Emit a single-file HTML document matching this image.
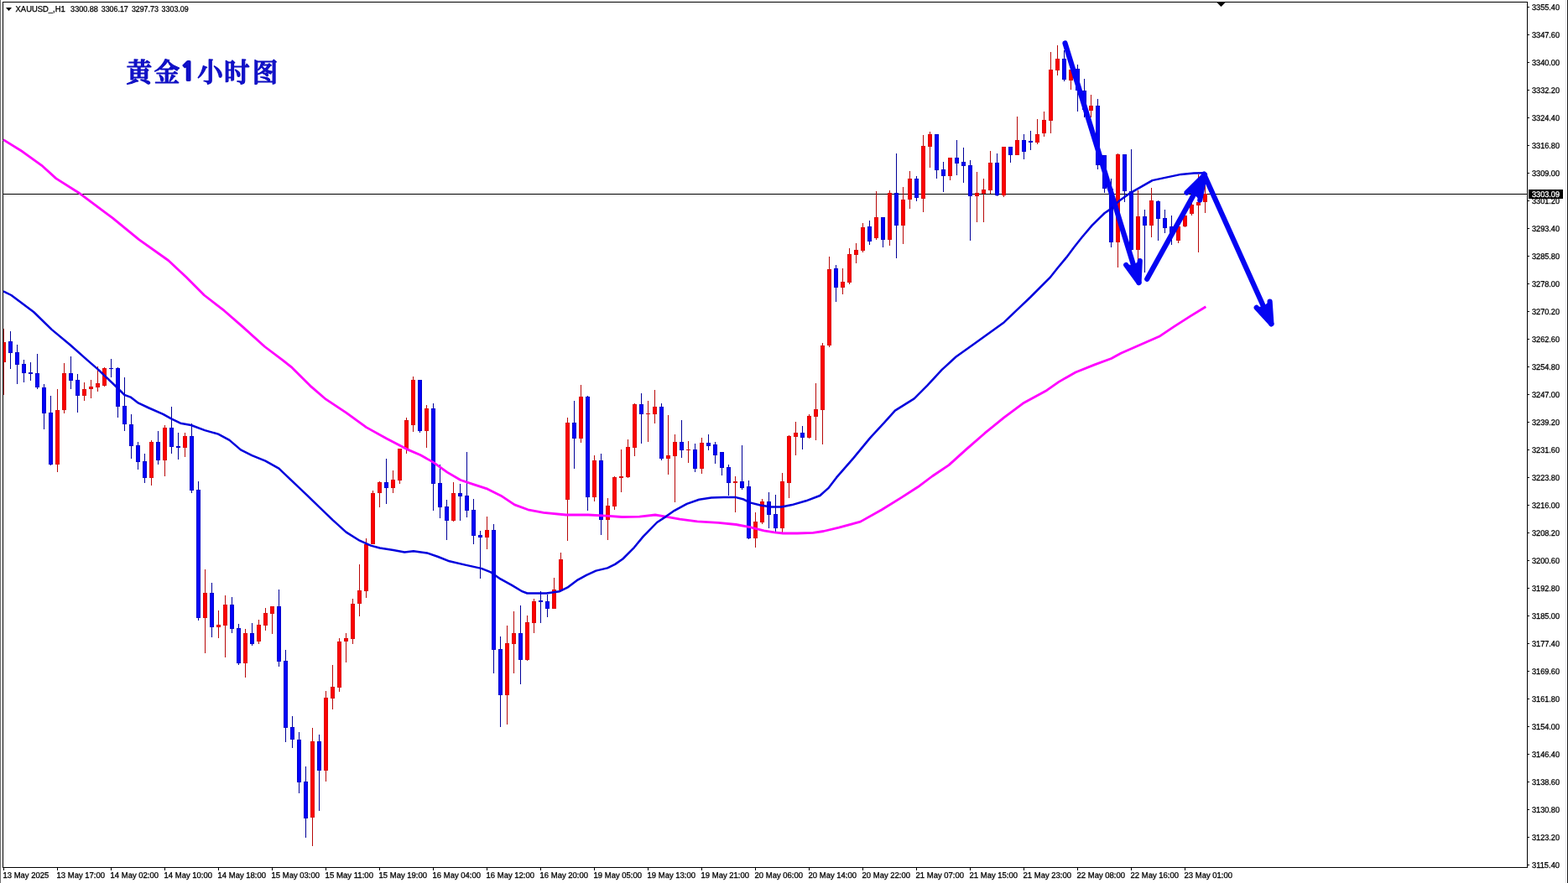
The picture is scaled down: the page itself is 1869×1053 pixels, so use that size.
<!DOCTYPE html>
<html lang="zh"><head><meta charset="utf-8"><title>XAUUSD H1</title>
<style>
html,body{margin:0;padding:0;background:#fff;}
body{width:1869px;height:1053px;overflow:hidden;font-family:"Liberation Sans", sans-serif;}
svg{display:block;}
.ax{font-family:"Liberation Sans", sans-serif;font-size:9.8px;fill:#000;text-rendering:geometricPrecision;stroke:#000;stroke-width:0.3px;}
.ttl{font-family:"Noto Serif CJK SC","Noto Sans CJK SC",serif;font-weight:600;font-size:30.5px;fill:#1212CC;stroke:#0C0CC0;stroke-width:1.2px;stroke-linejoin:round;}
.one{font-family:"NanumGothic","Liberation Sans",sans-serif;font-weight:800;font-size:29px;stroke-width:1.8px;}
</style></head><body>
<svg width="1869" height="1053" viewBox="0 0 1869 1053">
<rect x="0" y="0" width="1869" height="1053" fill="#fff"/>

<g shape-rendering="crispEdges">
<rect x="0" y="0" width="1" height="1053" fill="#707070"/>
<rect x="1866" y="0" width="1" height="1053" fill="#e4e4ea"/>
<rect x="1868" y="0" width="1" height="1053" fill="#181818"/>
<rect x="3" y="2" width="1818" height="1" fill="#000"/>
<rect x="3" y="2" width="1" height="1032" fill="#000"/>
<rect x="1820" y="2" width="1" height="1033" fill="#000"/>
<rect x="3" y="1034" width="1818" height="1" fill="#000"/>
<rect x="1821" y="8" width="2" height="1" fill="#000"/>
<rect x="1821" y="41" width="2" height="1" fill="#000"/>
<rect x="1821" y="74" width="2" height="1" fill="#000"/>
<rect x="1821" y="107" width="2" height="1" fill="#000"/>
<rect x="1821" y="140" width="2" height="1" fill="#000"/>
<rect x="1821" y="173" width="2" height="1" fill="#000"/>
<rect x="1821" y="206" width="2" height="1" fill="#000"/>
<rect x="1821" y="239" width="2" height="1" fill="#000"/>
<rect x="1821" y="272" width="2" height="1" fill="#000"/>
<rect x="1821" y="305" width="2" height="1" fill="#000"/>
<rect x="1821" y="338" width="2" height="1" fill="#000"/>
<rect x="1821" y="371" width="2" height="1" fill="#000"/>
<rect x="1821" y="404" width="2" height="1" fill="#000"/>
<rect x="1821" y="437" width="2" height="1" fill="#000"/>
<rect x="1821" y="470" width="2" height="1" fill="#000"/>
<rect x="1821" y="503" width="2" height="1" fill="#000"/>
<rect x="1821" y="536" width="2" height="1" fill="#000"/>
<rect x="1821" y="569" width="2" height="1" fill="#000"/>
<rect x="1821" y="602" width="2" height="1" fill="#000"/>
<rect x="1821" y="635" width="2" height="1" fill="#000"/>
<rect x="1821" y="668" width="2" height="1" fill="#000"/>
<rect x="1821" y="701" width="2" height="1" fill="#000"/>
<rect x="1821" y="734" width="2" height="1" fill="#000"/>
<rect x="1821" y="767" width="2" height="1" fill="#000"/>
<rect x="1821" y="800" width="2" height="1" fill="#000"/>
<rect x="1821" y="833" width="2" height="1" fill="#000"/>
<rect x="1821" y="866" width="2" height="1" fill="#000"/>
<rect x="1821" y="899" width="2" height="1" fill="#000"/>
<rect x="1821" y="932" width="2" height="1" fill="#000"/>
<rect x="1821" y="965" width="2" height="1" fill="#000"/>
<rect x="1821" y="998" width="2" height="1" fill="#000"/>
<rect x="1821" y="1031" width="2" height="1" fill="#000"/>
<rect x="4" y="1035" width="1" height="3" fill="#000"/>
<rect x="68" y="1035" width="1" height="3" fill="#000"/>
<rect x="132" y="1035" width="1" height="3" fill="#000"/>
<rect x="196" y="1035" width="1" height="3" fill="#000"/>
<rect x="260" y="1035" width="1" height="3" fill="#000"/>
<rect x="324" y="1035" width="1" height="3" fill="#000"/>
<rect x="388" y="1035" width="1" height="3" fill="#000"/>
<rect x="452" y="1035" width="1" height="3" fill="#000"/>
<rect x="516" y="1035" width="1" height="3" fill="#000"/>
<rect x="580" y="1035" width="1" height="3" fill="#000"/>
<rect x="644" y="1035" width="1" height="3" fill="#000"/>
<rect x="708" y="1035" width="1" height="3" fill="#000"/>
<rect x="772" y="1035" width="1" height="3" fill="#000"/>
<rect x="836" y="1035" width="1" height="3" fill="#000"/>
<rect x="900" y="1035" width="1" height="3" fill="#000"/>
<rect x="964" y="1035" width="1" height="3" fill="#000"/>
<rect x="1028" y="1035" width="1" height="3" fill="#000"/>
<rect x="1092" y="1035" width="1" height="3" fill="#000"/>
<rect x="1156" y="1035" width="1" height="3" fill="#000"/>
<rect x="1220" y="1035" width="1" height="3" fill="#000"/>
<rect x="1284" y="1035" width="1" height="3" fill="#000"/>
<rect x="1348" y="1035" width="1" height="3" fill="#000"/>
<rect x="1412" y="1035" width="1" height="3" fill="#000"/>
<rect x="4" y="231" width="1816" height="1" fill="#000"/>
</g>
<g shape-rendering="crispEdges">
<rect x="4" y="392" width="1" height="79" fill="#B80808"/>
<rect x="4" y="408" width="3" height="24" fill="#DC0808"/>
<rect x="4" y="409" width="2" height="22" fill="#FC0000"/>
<rect x="12" y="395" width="1" height="45" fill="#000098"/>
<rect x="10" y="407" width="5" height="14" fill="#0000CC"/>
<rect x="11" y="408" width="3" height="12" fill="#0000FA"/>
<rect x="20" y="411" width="1" height="47" fill="#000098"/>
<rect x="18" y="420" width="5" height="15" fill="#0000CC"/>
<rect x="19" y="421" width="3" height="13" fill="#0000FA"/>
<rect x="28" y="429" width="1" height="27" fill="#000098"/>
<rect x="26" y="434" width="5" height="11" fill="#0000CC"/>
<rect x="27" y="435" width="3" height="9" fill="#0000FA"/>
<rect x="36" y="432" width="1" height="22" fill="#000098"/>
<rect x="34" y="444" width="5" height="2" fill="#0000CC"/>
<rect x="44" y="422" width="1" height="42" fill="#000098"/>
<rect x="42" y="445" width="5" height="17" fill="#0000CC"/>
<rect x="43" y="446" width="3" height="15" fill="#0000FA"/>
<rect x="52" y="458" width="1" height="54" fill="#000098"/>
<rect x="50" y="462" width="5" height="31" fill="#0000CC"/>
<rect x="51" y="463" width="3" height="29" fill="#0000FA"/>
<rect x="60" y="472" width="1" height="83" fill="#000098"/>
<rect x="58" y="492" width="5" height="62" fill="#0000CC"/>
<rect x="59" y="493" width="3" height="60" fill="#0000FA"/>
<rect x="68" y="464" width="1" height="99" fill="#B80808"/>
<rect x="66" y="489" width="5" height="65" fill="#DC0808"/>
<rect x="67" y="490" width="3" height="63" fill="#FC0000"/>
<rect x="76" y="433" width="1" height="60" fill="#B80808"/>
<rect x="74" y="445" width="5" height="44" fill="#DC0808"/>
<rect x="75" y="446" width="3" height="42" fill="#FC0000"/>
<rect x="84" y="425" width="1" height="39" fill="#000098"/>
<rect x="82" y="445" width="5" height="9" fill="#0000CC"/>
<rect x="83" y="446" width="3" height="7" fill="#0000FA"/>
<rect x="92" y="446" width="1" height="46" fill="#000098"/>
<rect x="90" y="453" width="5" height="19" fill="#0000CC"/>
<rect x="91" y="454" width="3" height="17" fill="#0000FA"/>
<rect x="100" y="456" width="1" height="22" fill="#B80808"/>
<rect x="98" y="464" width="5" height="8" fill="#DC0808"/>
<rect x="99" y="465" width="3" height="6" fill="#FC0000"/>
<rect x="108" y="453" width="1" height="22" fill="#B80808"/>
<rect x="106" y="461" width="5" height="3" fill="#DC0808"/>
<rect x="107" y="462" width="3" height="1" fill="#FC0000"/>
<rect x="116" y="437" width="1" height="30" fill="#B80808"/>
<rect x="114" y="457" width="5" height="5" fill="#DC0808"/>
<rect x="115" y="458" width="3" height="3" fill="#FC0000"/>
<rect x="124" y="438" width="1" height="23" fill="#B80808"/>
<rect x="122" y="439" width="5" height="21" fill="#DC0808"/>
<rect x="123" y="440" width="3" height="19" fill="#FC0000"/>
<rect x="132" y="428" width="1" height="22" fill="#000098"/>
<rect x="130" y="439" width="5" height="1" fill="#0000CC"/>
<rect x="140" y="438" width="1" height="60" fill="#000098"/>
<rect x="138" y="439" width="5" height="46" fill="#0000CC"/>
<rect x="139" y="440" width="3" height="44" fill="#0000FA"/>
<rect x="148" y="450" width="1" height="64" fill="#000098"/>
<rect x="146" y="484" width="5" height="22" fill="#0000CC"/>
<rect x="147" y="485" width="3" height="20" fill="#0000FA"/>
<rect x="156" y="494" width="1" height="53" fill="#000098"/>
<rect x="154" y="506" width="5" height="26" fill="#0000CC"/>
<rect x="155" y="507" width="3" height="24" fill="#0000FA"/>
<rect x="164" y="527" width="1" height="33" fill="#000098"/>
<rect x="162" y="531" width="5" height="20" fill="#0000CC"/>
<rect x="163" y="532" width="3" height="18" fill="#0000FA"/>
<rect x="172" y="541" width="1" height="35" fill="#000098"/>
<rect x="170" y="550" width="5" height="20" fill="#0000CC"/>
<rect x="171" y="551" width="3" height="18" fill="#0000FA"/>
<rect x="180" y="525" width="1" height="54" fill="#B80808"/>
<rect x="178" y="527" width="5" height="43" fill="#DC0808"/>
<rect x="179" y="528" width="3" height="41" fill="#FC0000"/>
<rect x="188" y="514" width="1" height="40" fill="#000098"/>
<rect x="186" y="527" width="5" height="22" fill="#0000CC"/>
<rect x="187" y="528" width="3" height="20" fill="#0000FA"/>
<rect x="196" y="507" width="1" height="61" fill="#B80808"/>
<rect x="194" y="510" width="5" height="39" fill="#DC0808"/>
<rect x="195" y="511" width="3" height="37" fill="#FC0000"/>
<rect x="204" y="485" width="1" height="56" fill="#000098"/>
<rect x="202" y="510" width="5" height="23" fill="#0000CC"/>
<rect x="203" y="511" width="3" height="21" fill="#0000FA"/>
<rect x="212" y="516" width="1" height="32" fill="#000098"/>
<rect x="210" y="532" width="5" height="2" fill="#0000CC"/>
<rect x="220" y="516" width="1" height="29" fill="#B80808"/>
<rect x="218" y="520" width="5" height="14" fill="#DC0808"/>
<rect x="219" y="521" width="3" height="12" fill="#FC0000"/>
<rect x="228" y="505" width="1" height="83" fill="#000098"/>
<rect x="226" y="520" width="5" height="65" fill="#0000CC"/>
<rect x="227" y="521" width="3" height="63" fill="#0000FA"/>
<rect x="236" y="574" width="1" height="166" fill="#000098"/>
<rect x="234" y="584" width="5" height="153" fill="#0000CC"/>
<rect x="235" y="585" width="3" height="151" fill="#0000FA"/>
<rect x="244" y="679" width="1" height="100" fill="#B80808"/>
<rect x="242" y="707" width="5" height="30" fill="#DC0808"/>
<rect x="243" y="708" width="3" height="28" fill="#FC0000"/>
<rect x="252" y="695" width="1" height="65" fill="#000098"/>
<rect x="250" y="707" width="5" height="41" fill="#0000CC"/>
<rect x="251" y="708" width="3" height="39" fill="#0000FA"/>
<rect x="260" y="728" width="1" height="33" fill="#B80808"/>
<rect x="258" y="745" width="5" height="3" fill="#DC0808"/>
<rect x="259" y="746" width="3" height="1" fill="#FC0000"/>
<rect x="268" y="710" width="1" height="74" fill="#B80808"/>
<rect x="266" y="721" width="5" height="25" fill="#DC0808"/>
<rect x="267" y="722" width="3" height="23" fill="#FC0000"/>
<rect x="276" y="712" width="1" height="43" fill="#000098"/>
<rect x="274" y="721" width="5" height="29" fill="#0000CC"/>
<rect x="275" y="722" width="3" height="27" fill="#0000FA"/>
<rect x="284" y="744" width="1" height="49" fill="#000098"/>
<rect x="282" y="749" width="5" height="42" fill="#0000CC"/>
<rect x="283" y="750" width="3" height="40" fill="#0000FA"/>
<rect x="292" y="750" width="1" height="58" fill="#B80808"/>
<rect x="290" y="755" width="5" height="36" fill="#DC0808"/>
<rect x="291" y="756" width="3" height="34" fill="#FC0000"/>
<rect x="300" y="743" width="1" height="27" fill="#000098"/>
<rect x="298" y="755" width="5" height="13" fill="#0000CC"/>
<rect x="299" y="756" width="3" height="11" fill="#0000FA"/>
<rect x="308" y="739" width="1" height="29" fill="#B80808"/>
<rect x="306" y="745" width="5" height="20" fill="#DC0808"/>
<rect x="307" y="746" width="3" height="18" fill="#FC0000"/>
<rect x="316" y="725" width="1" height="27" fill="#B80808"/>
<rect x="314" y="731" width="5" height="15" fill="#DC0808"/>
<rect x="315" y="732" width="3" height="13" fill="#FC0000"/>
<rect x="324" y="723" width="1" height="33" fill="#B80808"/>
<rect x="322" y="723" width="5" height="9" fill="#DC0808"/>
<rect x="323" y="724" width="3" height="7" fill="#FC0000"/>
<rect x="332" y="703" width="1" height="92" fill="#000098"/>
<rect x="330" y="723" width="5" height="66" fill="#0000CC"/>
<rect x="331" y="724" width="3" height="64" fill="#0000FA"/>
<rect x="340" y="775" width="1" height="110" fill="#000098"/>
<rect x="338" y="788" width="5" height="80" fill="#0000CC"/>
<rect x="339" y="789" width="3" height="78" fill="#0000FA"/>
<rect x="348" y="854" width="1" height="38" fill="#000098"/>
<rect x="346" y="867" width="5" height="15" fill="#0000CC"/>
<rect x="347" y="868" width="3" height="13" fill="#0000FA"/>
<rect x="356" y="873" width="1" height="73" fill="#000098"/>
<rect x="354" y="882" width="5" height="51" fill="#0000CC"/>
<rect x="355" y="883" width="3" height="49" fill="#0000FA"/>
<rect x="364" y="914" width="1" height="85" fill="#000098"/>
<rect x="362" y="932" width="5" height="44" fill="#0000CC"/>
<rect x="363" y="933" width="3" height="42" fill="#0000FA"/>
<rect x="372" y="868" width="1" height="141" fill="#B80808"/>
<rect x="370" y="884" width="5" height="91" fill="#DC0808"/>
<rect x="371" y="885" width="3" height="89" fill="#FC0000"/>
<rect x="380" y="876" width="1" height="91" fill="#000098"/>
<rect x="378" y="884" width="5" height="35" fill="#0000CC"/>
<rect x="379" y="885" width="3" height="33" fill="#0000FA"/>
<rect x="388" y="824" width="1" height="108" fill="#B80808"/>
<rect x="386" y="832" width="5" height="87" fill="#DC0808"/>
<rect x="387" y="833" width="3" height="85" fill="#FC0000"/>
<rect x="396" y="793" width="1" height="53" fill="#B80808"/>
<rect x="394" y="819" width="5" height="14" fill="#DC0808"/>
<rect x="395" y="820" width="3" height="12" fill="#FC0000"/>
<rect x="404" y="761" width="1" height="64" fill="#B80808"/>
<rect x="402" y="765" width="5" height="55" fill="#DC0808"/>
<rect x="403" y="766" width="3" height="53" fill="#FC0000"/>
<rect x="412" y="755" width="1" height="35" fill="#B80808"/>
<rect x="410" y="761" width="5" height="4" fill="#DC0808"/>
<rect x="411" y="762" width="3" height="2" fill="#FC0000"/>
<rect x="420" y="714" width="1" height="54" fill="#B80808"/>
<rect x="418" y="720" width="5" height="42" fill="#DC0808"/>
<rect x="419" y="721" width="3" height="40" fill="#FC0000"/>
<rect x="428" y="673" width="1" height="62" fill="#B80808"/>
<rect x="426" y="704" width="5" height="16" fill="#DC0808"/>
<rect x="427" y="705" width="3" height="14" fill="#FC0000"/>
<rect x="436" y="642" width="1" height="71" fill="#B80808"/>
<rect x="434" y="649" width="5" height="56" fill="#DC0808"/>
<rect x="435" y="650" width="3" height="54" fill="#FC0000"/>
<rect x="444" y="585" width="1" height="64" fill="#B80808"/>
<rect x="442" y="588" width="5" height="61" fill="#DC0808"/>
<rect x="443" y="589" width="3" height="59" fill="#FC0000"/>
<rect x="452" y="574" width="1" height="31" fill="#B80808"/>
<rect x="450" y="575" width="5" height="13" fill="#DC0808"/>
<rect x="451" y="576" width="3" height="11" fill="#FC0000"/>
<rect x="460" y="547" width="1" height="54" fill="#000098"/>
<rect x="458" y="575" width="5" height="7" fill="#0000CC"/>
<rect x="459" y="576" width="3" height="5" fill="#0000FA"/>
<rect x="468" y="561" width="1" height="27" fill="#B80808"/>
<rect x="466" y="572" width="5" height="10" fill="#DC0808"/>
<rect x="467" y="573" width="3" height="8" fill="#FC0000"/>
<rect x="476" y="535" width="1" height="42" fill="#B80808"/>
<rect x="474" y="535" width="5" height="38" fill="#DC0808"/>
<rect x="475" y="536" width="3" height="36" fill="#FC0000"/>
<rect x="484" y="498" width="1" height="43" fill="#B80808"/>
<rect x="482" y="501" width="5" height="34" fill="#DC0808"/>
<rect x="483" y="502" width="3" height="32" fill="#FC0000"/>
<rect x="492" y="449" width="1" height="66" fill="#B80808"/>
<rect x="490" y="453" width="5" height="54" fill="#DC0808"/>
<rect x="491" y="454" width="3" height="52" fill="#FC0000"/>
<rect x="500" y="453" width="1" height="63" fill="#000098"/>
<rect x="498" y="453" width="5" height="61" fill="#0000CC"/>
<rect x="499" y="454" width="3" height="59" fill="#0000FA"/>
<rect x="508" y="483" width="1" height="51" fill="#B80808"/>
<rect x="506" y="487" width="5" height="27" fill="#DC0808"/>
<rect x="507" y="488" width="3" height="25" fill="#FC0000"/>
<rect x="516" y="481" width="1" height="128" fill="#000098"/>
<rect x="514" y="487" width="5" height="90" fill="#0000CC"/>
<rect x="515" y="488" width="3" height="88" fill="#0000FA"/>
<rect x="524" y="554" width="1" height="64" fill="#000098"/>
<rect x="522" y="576" width="5" height="29" fill="#0000CC"/>
<rect x="523" y="577" width="3" height="27" fill="#0000FA"/>
<rect x="532" y="596" width="1" height="48" fill="#000098"/>
<rect x="530" y="604" width="5" height="17" fill="#0000CC"/>
<rect x="531" y="605" width="3" height="15" fill="#0000FA"/>
<rect x="540" y="575" width="1" height="47" fill="#B80808"/>
<rect x="538" y="588" width="5" height="33" fill="#DC0808"/>
<rect x="539" y="589" width="3" height="31" fill="#FC0000"/>
<rect x="548" y="577" width="1" height="44" fill="#000098"/>
<rect x="546" y="588" width="5" height="4" fill="#0000CC"/>
<rect x="547" y="589" width="3" height="2" fill="#0000FA"/>
<rect x="556" y="539" width="1" height="78" fill="#000098"/>
<rect x="554" y="591" width="5" height="18" fill="#0000CC"/>
<rect x="555" y="592" width="3" height="16" fill="#0000FA"/>
<rect x="564" y="595" width="1" height="54" fill="#000098"/>
<rect x="562" y="608" width="5" height="31" fill="#0000CC"/>
<rect x="563" y="609" width="3" height="29" fill="#0000FA"/>
<rect x="572" y="633" width="1" height="57" fill="#000098"/>
<rect x="570" y="638" width="5" height="3" fill="#0000CC"/>
<rect x="571" y="639" width="3" height="1" fill="#0000FA"/>
<rect x="580" y="616" width="1" height="39" fill="#B80808"/>
<rect x="578" y="632" width="5" height="9" fill="#DC0808"/>
<rect x="579" y="633" width="3" height="7" fill="#FC0000"/>
<rect x="588" y="625" width="1" height="178" fill="#000098"/>
<rect x="586" y="632" width="5" height="143" fill="#0000CC"/>
<rect x="587" y="633" width="3" height="141" fill="#0000FA"/>
<rect x="596" y="759" width="1" height="108" fill="#000098"/>
<rect x="594" y="774" width="5" height="55" fill="#0000CC"/>
<rect x="595" y="775" width="3" height="53" fill="#0000FA"/>
<rect x="604" y="746" width="1" height="118" fill="#B80808"/>
<rect x="602" y="767" width="5" height="62" fill="#DC0808"/>
<rect x="603" y="768" width="3" height="60" fill="#FC0000"/>
<rect x="612" y="729" width="1" height="74" fill="#B80808"/>
<rect x="610" y="755" width="5" height="13" fill="#DC0808"/>
<rect x="611" y="756" width="3" height="11" fill="#FC0000"/>
<rect x="620" y="722" width="1" height="94" fill="#000098"/>
<rect x="618" y="755" width="5" height="32" fill="#0000CC"/>
<rect x="619" y="756" width="3" height="30" fill="#0000FA"/>
<rect x="628" y="734" width="1" height="54" fill="#B80808"/>
<rect x="626" y="742" width="5" height="45" fill="#DC0808"/>
<rect x="627" y="743" width="3" height="43" fill="#FC0000"/>
<rect x="636" y="714" width="1" height="41" fill="#B80808"/>
<rect x="634" y="717" width="5" height="26" fill="#DC0808"/>
<rect x="635" y="718" width="3" height="24" fill="#FC0000"/>
<rect x="644" y="705" width="1" height="38" fill="#000098"/>
<rect x="642" y="716" width="5" height="2" fill="#0000CC"/>
<rect x="652" y="709" width="1" height="27" fill="#000098"/>
<rect x="650" y="717" width="5" height="9" fill="#0000CC"/>
<rect x="651" y="718" width="3" height="7" fill="#0000FA"/>
<rect x="660" y="689" width="1" height="37" fill="#B80808"/>
<rect x="658" y="703" width="5" height="23" fill="#DC0808"/>
<rect x="659" y="704" width="3" height="21" fill="#FC0000"/>
<rect x="668" y="659" width="1" height="45" fill="#B80808"/>
<rect x="666" y="667" width="5" height="37" fill="#DC0808"/>
<rect x="667" y="668" width="3" height="35" fill="#FC0000"/>
<rect x="676" y="498" width="1" height="147" fill="#B80808"/>
<rect x="674" y="504" width="5" height="92" fill="#DC0808"/>
<rect x="675" y="505" width="3" height="90" fill="#FC0000"/>
<rect x="684" y="478" width="1" height="81" fill="#000098"/>
<rect x="682" y="504" width="5" height="19" fill="#0000CC"/>
<rect x="683" y="505" width="3" height="17" fill="#0000FA"/>
<rect x="692" y="459" width="1" height="69" fill="#B80808"/>
<rect x="690" y="473" width="5" height="50" fill="#DC0808"/>
<rect x="691" y="474" width="3" height="48" fill="#FC0000"/>
<rect x="700" y="472" width="1" height="137" fill="#000098"/>
<rect x="698" y="473" width="5" height="120" fill="#0000CC"/>
<rect x="699" y="474" width="3" height="118" fill="#0000FA"/>
<rect x="708" y="543" width="1" height="55" fill="#B80808"/>
<rect x="706" y="549" width="5" height="44" fill="#DC0808"/>
<rect x="707" y="550" width="3" height="42" fill="#FC0000"/>
<rect x="716" y="541" width="1" height="97" fill="#000098"/>
<rect x="714" y="549" width="5" height="71" fill="#0000CC"/>
<rect x="715" y="550" width="3" height="69" fill="#0000FA"/>
<rect x="724" y="594" width="1" height="50" fill="#B80808"/>
<rect x="722" y="603" width="5" height="17" fill="#DC0808"/>
<rect x="723" y="604" width="3" height="15" fill="#FC0000"/>
<rect x="732" y="568" width="1" height="40" fill="#B80808"/>
<rect x="730" y="569" width="5" height="35" fill="#DC0808"/>
<rect x="731" y="570" width="3" height="33" fill="#FC0000"/>
<rect x="740" y="536" width="1" height="51" fill="#B80808"/>
<rect x="738" y="568" width="5" height="2" fill="#DC0808"/>
<rect x="748" y="524" width="1" height="46" fill="#B80808"/>
<rect x="746" y="533" width="5" height="36" fill="#DC0808"/>
<rect x="747" y="534" width="3" height="34" fill="#FC0000"/>
<rect x="756" y="481" width="1" height="63" fill="#B80808"/>
<rect x="754" y="482" width="5" height="52" fill="#DC0808"/>
<rect x="755" y="483" width="3" height="50" fill="#FC0000"/>
<rect x="764" y="469" width="1" height="60" fill="#000098"/>
<rect x="762" y="482" width="5" height="12" fill="#0000CC"/>
<rect x="763" y="483" width="3" height="10" fill="#0000FA"/>
<rect x="772" y="478" width="1" height="49" fill="#B80808"/>
<rect x="770" y="493" width="5" height="1" fill="#DC0808"/>
<rect x="780" y="465" width="1" height="40" fill="#B80808"/>
<rect x="778" y="485" width="5" height="9" fill="#DC0808"/>
<rect x="779" y="486" width="3" height="7" fill="#FC0000"/>
<rect x="788" y="481" width="1" height="68" fill="#000098"/>
<rect x="786" y="485" width="5" height="62" fill="#0000CC"/>
<rect x="787" y="486" width="3" height="60" fill="#0000FA"/>
<rect x="796" y="495" width="1" height="71" fill="#B80808"/>
<rect x="794" y="543" width="5" height="4" fill="#DC0808"/>
<rect x="795" y="544" width="3" height="2" fill="#FC0000"/>
<rect x="804" y="518" width="1" height="81" fill="#B80808"/>
<rect x="802" y="527" width="5" height="17" fill="#DC0808"/>
<rect x="803" y="528" width="3" height="15" fill="#FC0000"/>
<rect x="812" y="501" width="1" height="45" fill="#000098"/>
<rect x="810" y="527" width="5" height="10" fill="#0000CC"/>
<rect x="811" y="528" width="3" height="8" fill="#0000FA"/>
<rect x="820" y="526" width="1" height="26" fill="#B80808"/>
<rect x="818" y="536" width="5" height="1" fill="#DC0808"/>
<rect x="828" y="529" width="1" height="34" fill="#000098"/>
<rect x="826" y="536" width="5" height="23" fill="#0000CC"/>
<rect x="827" y="537" width="3" height="21" fill="#0000FA"/>
<rect x="836" y="522" width="1" height="43" fill="#B80808"/>
<rect x="834" y="528" width="5" height="31" fill="#DC0808"/>
<rect x="835" y="529" width="3" height="29" fill="#FC0000"/>
<rect x="844" y="518" width="1" height="19" fill="#000098"/>
<rect x="842" y="528" width="5" height="4" fill="#0000CC"/>
<rect x="843" y="529" width="3" height="2" fill="#0000FA"/>
<rect x="852" y="527" width="1" height="26" fill="#000098"/>
<rect x="850" y="530" width="5" height="13" fill="#0000CC"/>
<rect x="851" y="531" width="3" height="11" fill="#0000FA"/>
<rect x="860" y="539" width="1" height="28" fill="#000098"/>
<rect x="858" y="539" width="5" height="19" fill="#0000CC"/>
<rect x="859" y="540" width="3" height="17" fill="#0000FA"/>
<rect x="868" y="554" width="1" height="37" fill="#000098"/>
<rect x="866" y="557" width="5" height="19" fill="#0000CC"/>
<rect x="867" y="558" width="3" height="17" fill="#0000FA"/>
<rect x="876" y="568" width="1" height="43" fill="#B80808"/>
<rect x="874" y="574" width="5" height="2" fill="#DC0808"/>
<rect x="884" y="531" width="1" height="53" fill="#000098"/>
<rect x="882" y="574" width="5" height="8" fill="#0000CC"/>
<rect x="883" y="575" width="3" height="6" fill="#0000FA"/>
<rect x="892" y="573" width="1" height="70" fill="#000098"/>
<rect x="890" y="580" width="5" height="62" fill="#0000CC"/>
<rect x="891" y="581" width="3" height="60" fill="#0000FA"/>
<rect x="900" y="611" width="1" height="42" fill="#B80808"/>
<rect x="898" y="622" width="5" height="20" fill="#DC0808"/>
<rect x="899" y="623" width="3" height="18" fill="#FC0000"/>
<rect x="908" y="595" width="1" height="30" fill="#B80808"/>
<rect x="906" y="598" width="5" height="25" fill="#DC0808"/>
<rect x="907" y="599" width="3" height="23" fill="#FC0000"/>
<rect x="916" y="587" width="1" height="43" fill="#000098"/>
<rect x="914" y="598" width="5" height="16" fill="#0000CC"/>
<rect x="915" y="599" width="3" height="14" fill="#0000FA"/>
<rect x="924" y="590" width="1" height="44" fill="#000098"/>
<rect x="922" y="613" width="5" height="17" fill="#0000CC"/>
<rect x="923" y="614" width="3" height="15" fill="#0000FA"/>
<rect x="932" y="564" width="1" height="72" fill="#B80808"/>
<rect x="930" y="574" width="5" height="56" fill="#DC0808"/>
<rect x="931" y="575" width="3" height="54" fill="#FC0000"/>
<rect x="940" y="519" width="1" height="75" fill="#B80808"/>
<rect x="938" y="520" width="5" height="56" fill="#DC0808"/>
<rect x="939" y="521" width="3" height="54" fill="#FC0000"/>
<rect x="948" y="503" width="1" height="40" fill="#B80808"/>
<rect x="946" y="516" width="5" height="5" fill="#DC0808"/>
<rect x="947" y="517" width="3" height="3" fill="#FC0000"/>
<rect x="956" y="508" width="1" height="28" fill="#000098"/>
<rect x="954" y="516" width="5" height="6" fill="#0000CC"/>
<rect x="955" y="517" width="3" height="4" fill="#0000FA"/>
<rect x="964" y="494" width="1" height="29" fill="#B80808"/>
<rect x="962" y="496" width="5" height="26" fill="#DC0808"/>
<rect x="963" y="497" width="3" height="24" fill="#FC0000"/>
<rect x="972" y="457" width="1" height="68" fill="#B80808"/>
<rect x="970" y="488" width="5" height="9" fill="#DC0808"/>
<rect x="971" y="489" width="3" height="7" fill="#FC0000"/>
<rect x="980" y="409" width="1" height="121" fill="#B80808"/>
<rect x="978" y="412" width="5" height="77" fill="#DC0808"/>
<rect x="979" y="413" width="3" height="75" fill="#FC0000"/>
<rect x="988" y="306" width="1" height="108" fill="#B80808"/>
<rect x="986" y="321" width="5" height="91" fill="#DC0808"/>
<rect x="987" y="322" width="3" height="89" fill="#FC0000"/>
<rect x="996" y="316" width="1" height="44" fill="#000098"/>
<rect x="994" y="320" width="5" height="23" fill="#0000CC"/>
<rect x="995" y="321" width="3" height="21" fill="#0000FA"/>
<rect x="1004" y="320" width="1" height="31" fill="#B80808"/>
<rect x="1002" y="336" width="5" height="7" fill="#DC0808"/>
<rect x="1003" y="337" width="3" height="5" fill="#FC0000"/>
<rect x="1012" y="296" width="1" height="43" fill="#B80808"/>
<rect x="1010" y="303" width="5" height="34" fill="#DC0808"/>
<rect x="1011" y="304" width="3" height="32" fill="#FC0000"/>
<rect x="1020" y="290" width="1" height="24" fill="#B80808"/>
<rect x="1018" y="298" width="5" height="6" fill="#DC0808"/>
<rect x="1019" y="299" width="3" height="4" fill="#FC0000"/>
<rect x="1028" y="266" width="1" height="35" fill="#B80808"/>
<rect x="1026" y="271" width="5" height="28" fill="#DC0808"/>
<rect x="1027" y="272" width="3" height="26" fill="#FC0000"/>
<rect x="1036" y="263" width="1" height="29" fill="#000098"/>
<rect x="1034" y="270" width="5" height="18" fill="#0000CC"/>
<rect x="1035" y="271" width="3" height="16" fill="#0000FA"/>
<rect x="1044" y="228" width="1" height="58" fill="#B80808"/>
<rect x="1042" y="259" width="5" height="25" fill="#DC0808"/>
<rect x="1043" y="260" width="3" height="23" fill="#FC0000"/>
<rect x="1052" y="259" width="1" height="36" fill="#000098"/>
<rect x="1050" y="259" width="5" height="27" fill="#0000CC"/>
<rect x="1051" y="260" width="3" height="25" fill="#0000FA"/>
<rect x="1060" y="227" width="1" height="66" fill="#B80808"/>
<rect x="1058" y="230" width="5" height="56" fill="#DC0808"/>
<rect x="1059" y="231" width="3" height="54" fill="#FC0000"/>
<rect x="1068" y="183" width="1" height="125" fill="#000098"/>
<rect x="1066" y="230" width="5" height="39" fill="#0000CC"/>
<rect x="1067" y="231" width="3" height="37" fill="#0000FA"/>
<rect x="1076" y="223" width="1" height="68" fill="#B80808"/>
<rect x="1074" y="238" width="5" height="31" fill="#DC0808"/>
<rect x="1075" y="239" width="3" height="29" fill="#FC0000"/>
<rect x="1084" y="204" width="1" height="45" fill="#B80808"/>
<rect x="1082" y="213" width="5" height="25" fill="#DC0808"/>
<rect x="1083" y="214" width="3" height="23" fill="#FC0000"/>
<rect x="1092" y="210" width="1" height="30" fill="#000098"/>
<rect x="1090" y="213" width="5" height="23" fill="#0000CC"/>
<rect x="1091" y="214" width="3" height="21" fill="#0000FA"/>
<rect x="1100" y="161" width="1" height="92" fill="#B80808"/>
<rect x="1098" y="174" width="5" height="63" fill="#DC0808"/>
<rect x="1099" y="175" width="3" height="61" fill="#FC0000"/>
<rect x="1108" y="157" width="1" height="43" fill="#B80808"/>
<rect x="1106" y="160" width="5" height="15" fill="#DC0808"/>
<rect x="1107" y="161" width="3" height="13" fill="#FC0000"/>
<rect x="1116" y="160" width="1" height="53" fill="#000098"/>
<rect x="1114" y="160" width="5" height="43" fill="#0000CC"/>
<rect x="1115" y="161" width="3" height="41" fill="#0000FA"/>
<rect x="1124" y="193" width="1" height="36" fill="#000098"/>
<rect x="1122" y="202" width="5" height="8" fill="#0000CC"/>
<rect x="1123" y="203" width="3" height="6" fill="#0000FA"/>
<rect x="1132" y="188" width="1" height="27" fill="#B80808"/>
<rect x="1130" y="188" width="5" height="22" fill="#DC0808"/>
<rect x="1131" y="189" width="3" height="20" fill="#FC0000"/>
<rect x="1140" y="167" width="1" height="42" fill="#000098"/>
<rect x="1138" y="188" width="5" height="7" fill="#0000CC"/>
<rect x="1139" y="189" width="3" height="5" fill="#0000FA"/>
<rect x="1148" y="176" width="1" height="42" fill="#000098"/>
<rect x="1146" y="193" width="5" height="5" fill="#0000CC"/>
<rect x="1147" y="194" width="3" height="3" fill="#0000FA"/>
<rect x="1156" y="191" width="1" height="96" fill="#000098"/>
<rect x="1154" y="197" width="5" height="37" fill="#0000CC"/>
<rect x="1155" y="198" width="3" height="35" fill="#0000FA"/>
<rect x="1164" y="205" width="1" height="60" fill="#B80808"/>
<rect x="1162" y="230" width="5" height="4" fill="#DC0808"/>
<rect x="1163" y="231" width="3" height="2" fill="#FC0000"/>
<rect x="1172" y="213" width="1" height="52" fill="#B80808"/>
<rect x="1170" y="226" width="5" height="5" fill="#DC0808"/>
<rect x="1171" y="227" width="3" height="3" fill="#FC0000"/>
<rect x="1180" y="180" width="1" height="51" fill="#B80808"/>
<rect x="1178" y="194" width="5" height="33" fill="#DC0808"/>
<rect x="1179" y="195" width="3" height="31" fill="#FC0000"/>
<rect x="1188" y="183" width="1" height="51" fill="#000098"/>
<rect x="1186" y="194" width="5" height="39" fill="#0000CC"/>
<rect x="1187" y="195" width="3" height="37" fill="#0000FA"/>
<rect x="1196" y="175" width="1" height="60" fill="#B80808"/>
<rect x="1194" y="175" width="5" height="58" fill="#DC0808"/>
<rect x="1195" y="176" width="3" height="56" fill="#FC0000"/>
<rect x="1204" y="175" width="1" height="19" fill="#000098"/>
<rect x="1202" y="175" width="5" height="10" fill="#0000CC"/>
<rect x="1203" y="176" width="3" height="8" fill="#0000FA"/>
<rect x="1212" y="139" width="1" height="46" fill="#B80808"/>
<rect x="1210" y="167" width="5" height="18" fill="#DC0808"/>
<rect x="1211" y="168" width="3" height="16" fill="#FC0000"/>
<rect x="1220" y="160" width="1" height="30" fill="#000098"/>
<rect x="1218" y="167" width="5" height="14" fill="#0000CC"/>
<rect x="1219" y="168" width="3" height="12" fill="#0000FA"/>
<rect x="1228" y="156" width="1" height="23" fill="#000098"/>
<rect x="1226" y="168" width="5" height="2" fill="#0000CC"/>
<rect x="1236" y="142" width="1" height="30" fill="#B80808"/>
<rect x="1234" y="160" width="5" height="10" fill="#DC0808"/>
<rect x="1235" y="161" width="3" height="8" fill="#FC0000"/>
<rect x="1244" y="133" width="1" height="30" fill="#B80808"/>
<rect x="1242" y="143" width="5" height="16" fill="#DC0808"/>
<rect x="1243" y="144" width="3" height="14" fill="#FC0000"/>
<rect x="1252" y="62" width="1" height="97" fill="#B80808"/>
<rect x="1250" y="83" width="5" height="61" fill="#DC0808"/>
<rect x="1251" y="84" width="3" height="59" fill="#FC0000"/>
<rect x="1260" y="54" width="1" height="36" fill="#B80808"/>
<rect x="1258" y="70" width="5" height="14" fill="#DC0808"/>
<rect x="1259" y="71" width="3" height="12" fill="#FC0000"/>
<rect x="1268" y="60" width="1" height="37" fill="#000098"/>
<rect x="1266" y="70" width="5" height="25" fill="#0000CC"/>
<rect x="1267" y="71" width="3" height="23" fill="#0000FA"/>
<rect x="1276" y="78" width="1" height="29" fill="#B80808"/>
<rect x="1274" y="83" width="5" height="13" fill="#DC0808"/>
<rect x="1275" y="84" width="3" height="11" fill="#FC0000"/>
<rect x="1284" y="77" width="1" height="56" fill="#000098"/>
<rect x="1282" y="82" width="5" height="26" fill="#0000CC"/>
<rect x="1283" y="83" width="3" height="24" fill="#0000FA"/>
<rect x="1292" y="94" width="1" height="46" fill="#000098"/>
<rect x="1290" y="108" width="5" height="23" fill="#0000CC"/>
<rect x="1291" y="109" width="3" height="21" fill="#0000FA"/>
<rect x="1300" y="113" width="1" height="27" fill="#B80808"/>
<rect x="1298" y="126" width="5" height="6" fill="#DC0808"/>
<rect x="1299" y="127" width="3" height="4" fill="#FC0000"/>
<rect x="1308" y="118" width="1" height="84" fill="#000098"/>
<rect x="1306" y="126" width="5" height="71" fill="#0000CC"/>
<rect x="1307" y="127" width="3" height="69" fill="#0000FA"/>
<rect x="1316" y="185" width="1" height="45" fill="#000098"/>
<rect x="1314" y="185" width="5" height="40" fill="#0000CC"/>
<rect x="1315" y="186" width="3" height="38" fill="#0000FA"/>
<rect x="1324" y="213" width="1" height="82" fill="#000098"/>
<rect x="1322" y="225" width="5" height="64" fill="#0000CC"/>
<rect x="1323" y="226" width="3" height="62" fill="#0000FA"/>
<rect x="1332" y="183" width="1" height="136" fill="#B80808"/>
<rect x="1330" y="184" width="5" height="105" fill="#DC0808"/>
<rect x="1331" y="185" width="3" height="103" fill="#FC0000"/>
<rect x="1340" y="184" width="1" height="57" fill="#000098"/>
<rect x="1338" y="184" width="5" height="44" fill="#0000CC"/>
<rect x="1339" y="185" width="3" height="42" fill="#0000FA"/>
<rect x="1348" y="178" width="1" height="132" fill="#000098"/>
<rect x="1346" y="228" width="5" height="70" fill="#0000CC"/>
<rect x="1347" y="229" width="3" height="68" fill="#0000FA"/>
<rect x="1356" y="227" width="1" height="83" fill="#B80808"/>
<rect x="1354" y="258" width="5" height="40" fill="#DC0808"/>
<rect x="1355" y="259" width="3" height="38" fill="#FC0000"/>
<rect x="1364" y="250" width="1" height="75" fill="#000098"/>
<rect x="1362" y="258" width="5" height="11" fill="#0000CC"/>
<rect x="1363" y="259" width="3" height="9" fill="#0000FA"/>
<rect x="1372" y="224" width="1" height="59" fill="#B80808"/>
<rect x="1370" y="239" width="5" height="30" fill="#DC0808"/>
<rect x="1371" y="240" width="3" height="28" fill="#FC0000"/>
<rect x="1380" y="239" width="1" height="48" fill="#000098"/>
<rect x="1378" y="240" width="5" height="21" fill="#0000CC"/>
<rect x="1379" y="241" width="3" height="19" fill="#0000FA"/>
<rect x="1388" y="250" width="1" height="28" fill="#000098"/>
<rect x="1386" y="260" width="5" height="12" fill="#0000CC"/>
<rect x="1387" y="261" width="3" height="10" fill="#0000FA"/>
<rect x="1396" y="257" width="1" height="35" fill="#000098"/>
<rect x="1394" y="270" width="5" height="10" fill="#0000CC"/>
<rect x="1395" y="271" width="3" height="8" fill="#0000FA"/>
<rect x="1404" y="265" width="1" height="25" fill="#B80808"/>
<rect x="1402" y="270" width="5" height="17" fill="#DC0808"/>
<rect x="1403" y="271" width="3" height="15" fill="#FC0000"/>
<rect x="1412" y="254" width="1" height="17" fill="#B80808"/>
<rect x="1410" y="257" width="5" height="13" fill="#DC0808"/>
<rect x="1411" y="258" width="3" height="11" fill="#FC0000"/>
<rect x="1420" y="240" width="1" height="17" fill="#B80808"/>
<rect x="1418" y="244" width="5" height="11" fill="#DC0808"/>
<rect x="1419" y="245" width="3" height="9" fill="#FC0000"/>
<rect x="1428" y="208" width="1" height="93" fill="#B80808"/>
<rect x="1426" y="241" width="5" height="4" fill="#DC0808"/>
<rect x="1427" y="242" width="3" height="2" fill="#FC0000"/>
<rect x="1436" y="221" width="1" height="33" fill="#B80808"/>
<rect x="1434" y="231" width="5" height="10" fill="#DC0808"/>
<rect x="1435" y="232" width="3" height="8" fill="#FC0000"/>
</g>
<path d="M4,166.6 L26.8,180.8 L50.8,198.2 L66.9,212.9 L93.6,229.7 L133.8,259.7 L165.9,285.9 L200.6,310.5 L222,330.6 L243.4,352 L267.5,370.7 L288.9,389.4 L315.7,413.5 L337.1,429.6 L348.4,438.7 L369.8,460.1 L388.5,476.2 L412.6,492.2 L436.7,509.6 L460.8,523 L484.8,535.6 L500.9,542.5 L517,551.6 L533,563.1 L549,572.5 L565.1,577.8 L581.2,583.2 L597.2,591.2 L613.3,601.9 L629.3,607.8 L648,611.3 L674.8,614 L701.5,614 L722.5,615.1 L741.3,616.5 L762.2,616.1 L781,614 L793.6,616.1 L810.3,619.2 L831.2,621.8 L856.3,623.4 L877.2,625.5 L893.9,628.6 L910.6,632.8 L923.1,634.9 L933.6,636 L950.3,636 L969.1,635.3 L981.6,633.5 L999.9,629.2 L1025.6,622.1 L1051.2,607.8 L1074,593.6 L1094,580.8 L1111.1,568 L1131,554.6 L1150.9,536.6 L1173.7,516.7 L1196.5,498.1 L1219.3,481.1 L1247.8,465.4 L1262.1,455.4 L1282,444 L1304.8,434.9 L1324.7,427.5 L1336.1,421.2 L1358.9,411.3 L1381.7,401.3 L1398.8,389.9 L1418.7,377.1 L1437.3,365.7" fill="none" stroke="#FF00FF" stroke-width="2.8" stroke-linejoin="round"/>
<path d="M4,347.4 L13.4,352 L40.1,372 L61.5,392.9 L83.6,411.3 L104.3,429.6 L117,440.6 L139.9,462.5 L148.3,470.9 L155.6,473.6 L165,480.7 L177.5,486.5 L194.3,493.8 L204.7,499.7 L215.1,504.7 L227.7,507 L244.1,513.1 L260.1,517.6 L273.5,524.9 L286.9,536.4 L300.3,543.1 L316.3,549.7 L332.4,558.6 L348.4,573.8 L364.5,589.1 L380.5,604.6 L396.6,620.1 L412.6,634.6 L428.7,644.7 L442,650.6 L452.7,653.5 L468.8,656 L482.2,658.6 L492.9,657.3 L508.9,659.4 L522.3,664 L535.7,669.3 L554.4,673.6 L573.7,677.9 L585.1,682.4 L596.5,690.4 L610.1,697.9 L621.5,704.8 L628.4,707.5 L651.2,707.5 L667.1,705.2 L676.3,700.7 L687.6,692.2 L699,685.8 L710.4,680.6 L724.1,677.4 L733.2,672.9 L742.4,666.5 L756,652.8 L766.4,640.1 L783.1,623 L793.6,616.1 L804,608.8 L818.7,600.9 L833.3,595.8 L847.9,593.5 L862.5,593.1 L877.2,593.1 L885.5,595.2 L893.9,599.4 L906.4,602.5 L918.9,604.6 L931.5,604.6 L944,602.1 L960.7,597.3 L977.4,591 L987.9,581.6 L997.1,569.4 L1017,546.6 L1037,522.4 L1054.1,503.8 L1066.9,489.6 L1089.7,475.4 L1105.4,459.7 L1122.5,441.2 L1139.5,425.5 L1162.3,409.3 L1180,396.5 L1196.7,384.4 L1211.9,369.9 L1228.6,354 L1251.4,331.2 L1260.5,319.8 L1271.2,306.9 L1280.3,294.7 L1289.4,283.3 L1301.6,268.9 L1310.7,259.8 L1316.8,254 L1322.9,249.9 L1333.7,239.8 L1347,230.3 L1362.2,221.7 L1373.6,215.1 L1388.8,211.9 L1407.8,207.9 L1423,206.5 L1436.3,206.2" fill="none" stroke="#0000DC" stroke-width="2.5" stroke-linejoin="round"/>
<g fill="none" stroke="#0404F2" stroke-width="6.2" stroke-linecap="round" stroke-linejoin="round">
<path d="M1269.5,51.5 L1357.5,337"/>
<path d="M1342.2,316 L1357.5,337 L1358.7,311"/>
<path d="M1367.2,332.8 L1436,208.5"/>
<path d="M1414.5,229.8 L1436,208.5 L1430.3,238.5"/>
<path d="M1435,207.5 L1515.4,386.2"/>
<path d="M1497.7,366.8 L1515.4,386.2 L1513.6,359.7"/>
</g>
<g fill="#0404F2" stroke="#0404F2" stroke-width="1" stroke-linejoin="round">
<path d="M1342.2,316 L1350.9,316.5 L1358.7,311 L1357.5,337 Z"/>
<path d="M1414.5,229.8 L1423.4,231.3 L1430.3,238.5 L1436,208.5 Z"/>
<path d="M1497.7,366.8 L1506,365.6 L1513.6,359.7 L1515.4,386.2 Z"/>
</g>
<path d="M1450.5,3 L1460.5,3 L1455.5,8 Z" fill="#000"/>
<path d="M7,9 L14,9 L10.5,13 Z" fill="#000"/>
<text class="ax" y="14"><tspan x="18.6" textLength="59.1" lengthAdjust="spacingAndGlyphs">XAUUSD_,H1</tspan> <tspan x="84.1" textLength="32.8" lengthAdjust="spacingAndGlyphs">3300.88</tspan> <tspan x="120.7" textLength="32.1" lengthAdjust="spacingAndGlyphs">3306.17</tspan> <tspan x="156.9" textLength="31.9" lengthAdjust="spacingAndGlyphs">3297.73</tspan> <tspan x="192.6" textLength="32.1" lengthAdjust="spacingAndGlyphs">3303.09</tspan></text>
<text class="ax" x="1826" y="12" textLength="33" lengthAdjust="spacingAndGlyphs">3355.40</text>
<text class="ax" x="1826" y="45" textLength="33" lengthAdjust="spacingAndGlyphs">3347.60</text>
<text class="ax" x="1826" y="78" textLength="33" lengthAdjust="spacingAndGlyphs">3340.00</text>
<text class="ax" x="1826" y="111" textLength="33" lengthAdjust="spacingAndGlyphs">3332.20</text>
<text class="ax" x="1826" y="144" textLength="33" lengthAdjust="spacingAndGlyphs">3324.40</text>
<text class="ax" x="1826" y="177" textLength="33" lengthAdjust="spacingAndGlyphs">3316.80</text>
<text class="ax" x="1826" y="210" textLength="33" lengthAdjust="spacingAndGlyphs">3309.00</text>
<text class="ax" x="1826" y="243" textLength="33" lengthAdjust="spacingAndGlyphs">3301.20</text>
<text class="ax" x="1826" y="276" textLength="33" lengthAdjust="spacingAndGlyphs">3293.40</text>
<text class="ax" x="1826" y="309" textLength="33" lengthAdjust="spacingAndGlyphs">3285.80</text>
<text class="ax" x="1826" y="342" textLength="33" lengthAdjust="spacingAndGlyphs">3278.00</text>
<text class="ax" x="1826" y="375" textLength="33" lengthAdjust="spacingAndGlyphs">3270.20</text>
<text class="ax" x="1826" y="408" textLength="33" lengthAdjust="spacingAndGlyphs">3262.60</text>
<text class="ax" x="1826" y="441" textLength="33" lengthAdjust="spacingAndGlyphs">3254.80</text>
<text class="ax" x="1826" y="474" textLength="33" lengthAdjust="spacingAndGlyphs">3247.00</text>
<text class="ax" x="1826" y="507" textLength="33" lengthAdjust="spacingAndGlyphs">3239.20</text>
<text class="ax" x="1826" y="540" textLength="33" lengthAdjust="spacingAndGlyphs">3231.60</text>
<text class="ax" x="1826" y="573" textLength="33" lengthAdjust="spacingAndGlyphs">3223.80</text>
<text class="ax" x="1826" y="606" textLength="33" lengthAdjust="spacingAndGlyphs">3216.00</text>
<text class="ax" x="1826" y="639" textLength="33" lengthAdjust="spacingAndGlyphs">3208.20</text>
<text class="ax" x="1826" y="672" textLength="33" lengthAdjust="spacingAndGlyphs">3200.60</text>
<text class="ax" x="1826" y="705" textLength="33" lengthAdjust="spacingAndGlyphs">3192.80</text>
<text class="ax" x="1826" y="738" textLength="33" lengthAdjust="spacingAndGlyphs">3185.00</text>
<text class="ax" x="1826" y="771" textLength="33" lengthAdjust="spacingAndGlyphs">3177.40</text>
<text class="ax" x="1826" y="804" textLength="33" lengthAdjust="spacingAndGlyphs">3169.60</text>
<text class="ax" x="1826" y="837" textLength="33" lengthAdjust="spacingAndGlyphs">3161.80</text>
<text class="ax" x="1826" y="870" textLength="33" lengthAdjust="spacingAndGlyphs">3154.00</text>
<text class="ax" x="1826" y="903" textLength="33" lengthAdjust="spacingAndGlyphs">3146.40</text>
<text class="ax" x="1826" y="936" textLength="33" lengthAdjust="spacingAndGlyphs">3138.60</text>
<text class="ax" x="1826" y="969" textLength="33" lengthAdjust="spacingAndGlyphs">3130.80</text>
<text class="ax" x="1826" y="1002" textLength="33" lengthAdjust="spacingAndGlyphs">3123.20</text>
<text class="ax" x="1826" y="1035" textLength="33" lengthAdjust="spacingAndGlyphs">3115.40</text>
<rect x="1822" y="226" width="41" height="11" fill="#000" shape-rendering="crispEdges"/>
<text class="ax" x="1826" y="235" textLength="33" lengthAdjust="spacingAndGlyphs" style="fill:#fff;stroke:#fff">3303.09</text>
<text class="ax" x="3.6" y="1047" textLength="54.6" lengthAdjust="spacingAndGlyphs">13 May 2025</text>
<text class="ax" x="67.6" y="1047" textLength="57.4" lengthAdjust="spacingAndGlyphs">13 May 17:00</text>
<text class="ax" x="131.6" y="1047" textLength="57.4" lengthAdjust="spacingAndGlyphs">14 May 02:00</text>
<text class="ax" x="195.6" y="1047" textLength="57.4" lengthAdjust="spacingAndGlyphs">14 May 10:00</text>
<text class="ax" x="259.6" y="1047" textLength="57.4" lengthAdjust="spacingAndGlyphs">14 May 18:00</text>
<text class="ax" x="323.6" y="1047" textLength="57.4" lengthAdjust="spacingAndGlyphs">15 May 03:00</text>
<text class="ax" x="387.6" y="1047" textLength="57.4" lengthAdjust="spacingAndGlyphs">15 May 11:00</text>
<text class="ax" x="451.6" y="1047" textLength="57.4" lengthAdjust="spacingAndGlyphs">15 May 19:00</text>
<text class="ax" x="515.6" y="1047" textLength="57.4" lengthAdjust="spacingAndGlyphs">16 May 04:00</text>
<text class="ax" x="579.6" y="1047" textLength="57.4" lengthAdjust="spacingAndGlyphs">16 May 12:00</text>
<text class="ax" x="643.6" y="1047" textLength="57.4" lengthAdjust="spacingAndGlyphs">16 May 20:00</text>
<text class="ax" x="707.6" y="1047" textLength="57.4" lengthAdjust="spacingAndGlyphs">19 May 05:00</text>
<text class="ax" x="771.6" y="1047" textLength="57.4" lengthAdjust="spacingAndGlyphs">19 May 13:00</text>
<text class="ax" x="835.6" y="1047" textLength="57.4" lengthAdjust="spacingAndGlyphs">19 May 21:00</text>
<text class="ax" x="899.6" y="1047" textLength="57.4" lengthAdjust="spacingAndGlyphs">20 May 06:00</text>
<text class="ax" x="963.6" y="1047" textLength="57.4" lengthAdjust="spacingAndGlyphs">20 May 14:00</text>
<text class="ax" x="1027.6" y="1047" textLength="57.4" lengthAdjust="spacingAndGlyphs">20 May 22:00</text>
<text class="ax" x="1091.6" y="1047" textLength="57.4" lengthAdjust="spacingAndGlyphs">21 May 07:00</text>
<text class="ax" x="1155.6" y="1047" textLength="57.4" lengthAdjust="spacingAndGlyphs">21 May 15:00</text>
<text class="ax" x="1219.6" y="1047" textLength="57.4" lengthAdjust="spacingAndGlyphs">21 May 23:00</text>
<text class="ax" x="1283.6" y="1047" textLength="57.4" lengthAdjust="spacingAndGlyphs">22 May 08:00</text>
<text class="ax" x="1347.6" y="1047" textLength="57.4" lengthAdjust="spacingAndGlyphs">22 May 16:00</text>
<text class="ax" x="1411.6" y="1047" textLength="57.4" lengthAdjust="spacingAndGlyphs">23 May 01:00</text>
<text class="ttl" x="150.45 183.65 215.2 235.35 267.05 300.85" y="96.6 96.6 95.8 96.6 96.6 96.6">黄金<tspan class="one">1</tspan>小时图</text>
</svg></body></html>
